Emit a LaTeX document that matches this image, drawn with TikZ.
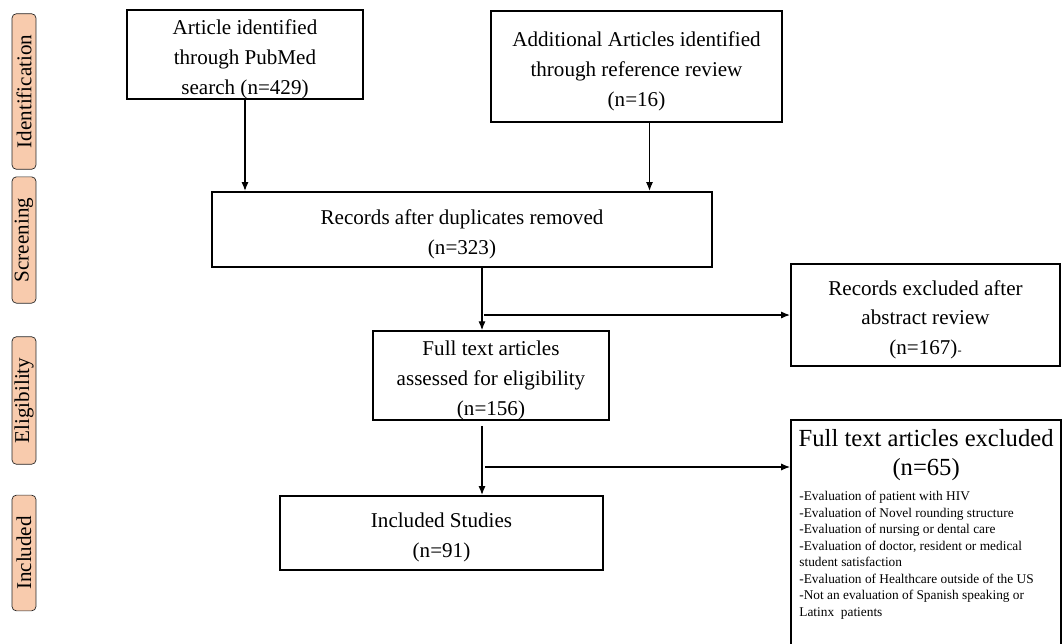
\documentclass[tikz,border=0pt]{standalone}
\usepackage{fontspec}
\setmainfont{Liberation Serif}
\usetikzlibrary{arrows.meta,calc}
\definecolor{phasefill}{HTML}{F8CBAD}
\newcommand{\toppad}{\rule{0pt}{1.15em}}

\begin{document}
\begin{tikzpicture}[x=0.02cm,y=-0.02cm,
  flowbox/.style={draw, line width=1.3pt, align=center, inner sep=0pt, font=\fontsize{12}{17}\selectfont},
  phase/.style={draw=black!85, fill=phasefill, rounded corners=2.5pt, rotate=90, inner xsep=0.42cm, inner ysep=0pt, minimum height=0.48cm, font=\fontsize{12}{14}\selectfont},
  arr/.style={-{Latex[length=5pt,width=4pt]}, line width=0.6pt}]
\useasboundingbox (0,0) rectangle (1062,643);
\clip (0,0) rectangle (1062,643);
% phase labels
\node[phase] (ident) at (24,91.5) {Identification};
\node[phase] (screen) at (24,240) {Screening};
\node[phase] (elig) at (24,400.5) {Eligibility};
\node[phase] (incl) at (24,553) {Included};
% flow boxes
\node[flowbox, minimum width=4.72cm, minimum height=1.78cm] (pubmed) at (245,54.5) {\toppad Article identified\\through PubMed\\search (n=429)};
\node[flowbox, minimum width=5.82cm, minimum height=2.22cm] (refs) at (636.5,66.5) {\toppad Additional Articles identified\\through reference review\\(n=16)};
\node[flowbox, minimum width=10cm, minimum height=1.5cm] (dedup) at (462,229.5) {\toppad Records after duplicates removed\\(n=323)};
\node[flowbox, minimum width=4.72cm, minimum height=1.74cm] (fulltext) at (491,375.5) {\toppad Full text articles\\assessed for eligibility\\(n=156)};
\node[flowbox, minimum width=6.46cm, minimum height=1.48cm] (included) at (441.5,533) {\toppad Included Studies\\(n=91)};
\node[flowbox, minimum width=5.38cm, minimum height=2.04cm] (absex) at (925.5,315) {\toppad Records excluded after\\abstract review\\(n=167){\scriptsize-}};
\node[flowbox, anchor=north west, minimum width=5.4cm, minimum height=5.3cm] (ftex) at (790,419) {};
\node[anchor=north, align=center, inner sep=0pt, font=\fontsize{14}{16.5}\selectfont] (ftextitle) at ($(ftex.north)+(0,10)$) {Full text articles excluded\\(n=65)};
\node[anchor=north west, align=left, inner sep=0pt, font=\fontsize{7.6}{9.4}\selectfont] (ftexlist) at (799,491) {-Evaluation of patient with HIV\\-Evaluation of Novel rounding structure\\-Evaluation of nursing or dental care\\-Evaluation of doctor, resident or medical\\student satisfaction\\-Evaluation of Healthcare outside of the US\\-Not an evaluation of Spanish speaking or\\Latinx\ \ patients};
% connectors
\coordinate (split1) at (484,315);
\coordinate (split2) at (485,467);
\draw[arr] (pubmed.south) -- (pubmed.south |- dedup.north);
\draw[arr] ($(refs.south)+(13,0)$) -- ($(refs.south |- dedup.north)+(13,0)$);
\draw[arr] ($(fulltext.north |- dedup.south)+(-9,0)$) -- ($(fulltext.north)+(-9,0)$);
\draw[arr] (split1) -- (split1 -| absex.west);
\draw[arr] ($(fulltext.south)+(-9,5)$) -- ($(fulltext.south |- included.north)+(-9,0)$);
\draw[arr] (split2) -- (split2 -| ftex.west);
\end{tikzpicture}
\end{document}
